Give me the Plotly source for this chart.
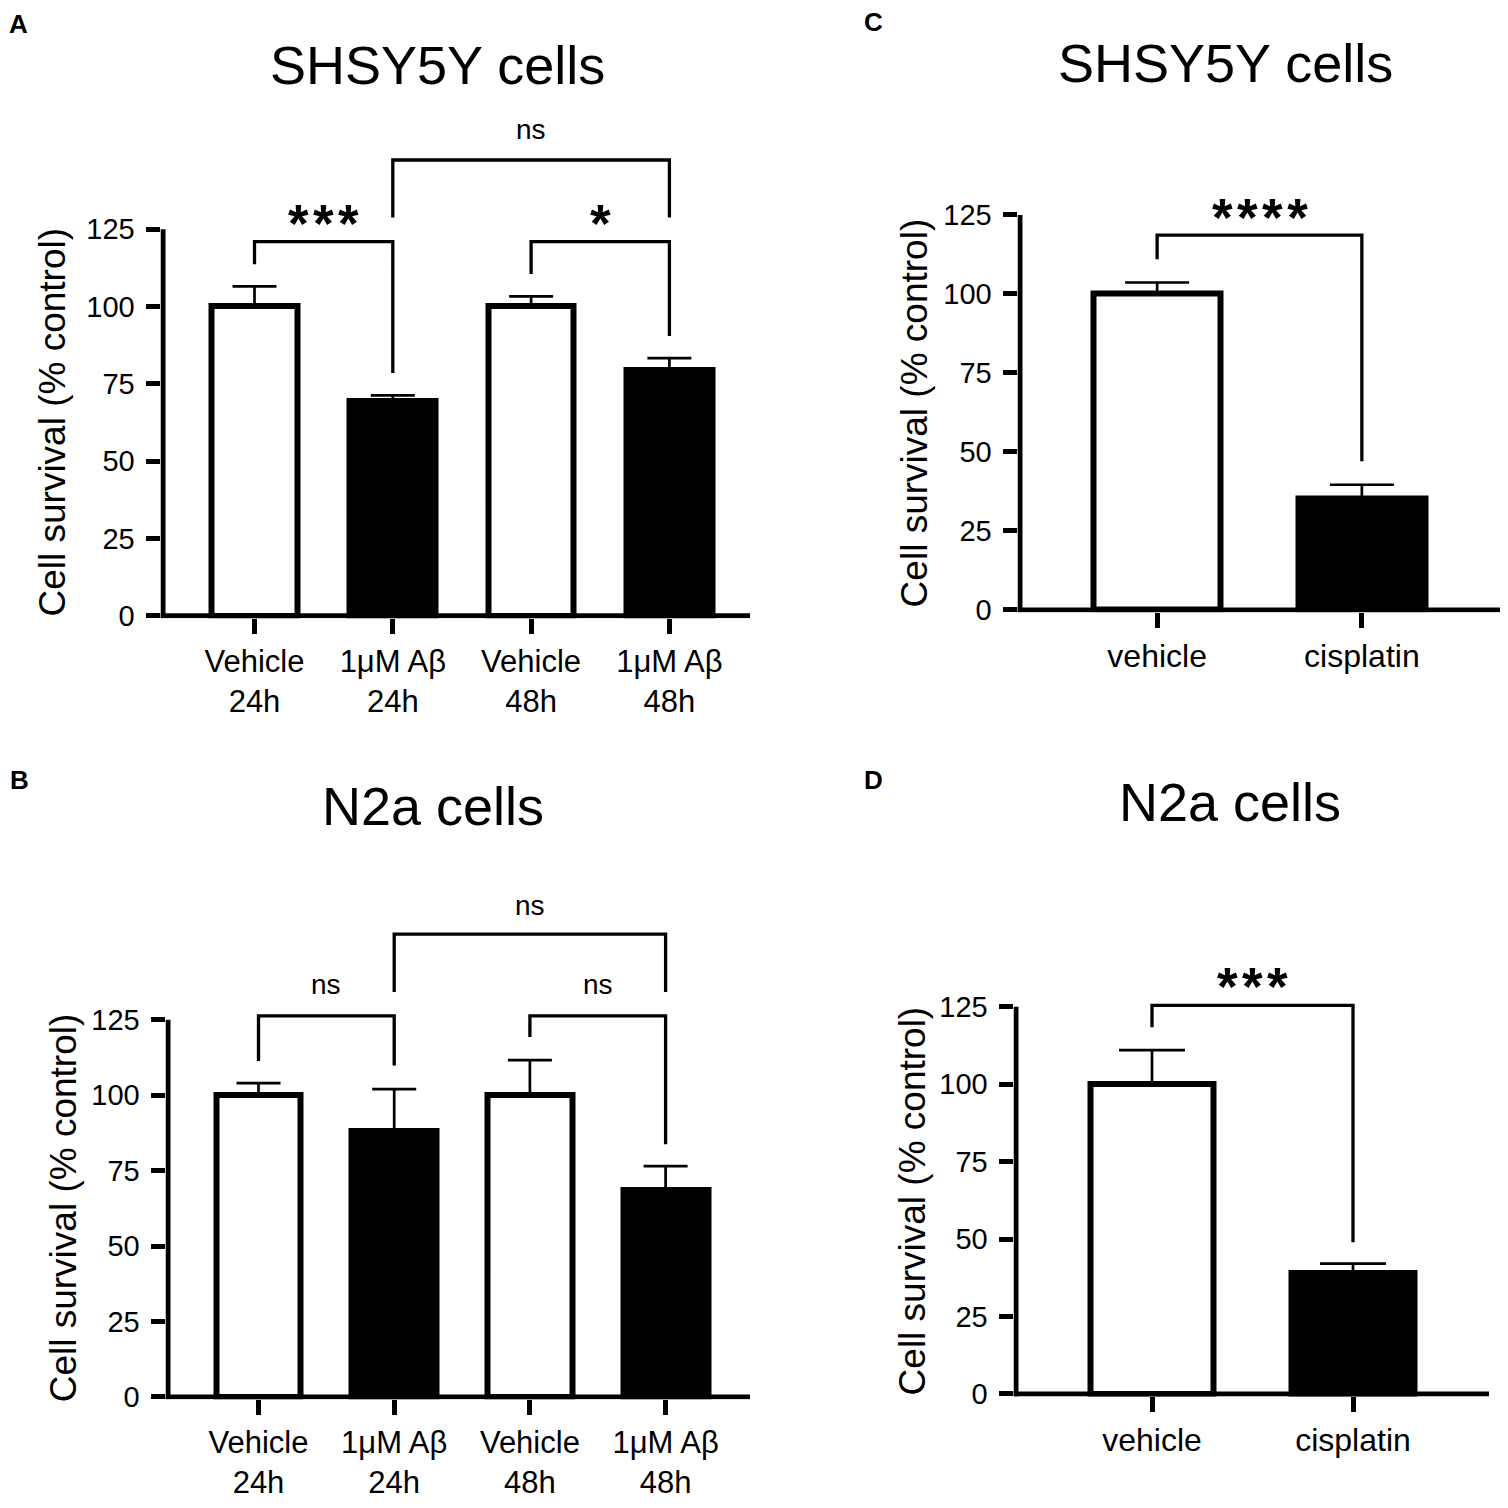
import plotly.graph_objects as go

# ---- data ----
four_labels = ["Vehicle<br>24h", "1μM Aβ<br>24h", "Vehicle<br>48h", "1μM Aβ<br>48h"]
two_labels = ["vehicle", "cisplatin"]
four_colors = ["white", "black", "white", "black"]
two_colors = ["white", "black"]
y_ticks = [0, 25, 50, 75, 100, 125]

# A: SHSY5Y, Abeta
a_means = [100, 69.5, 100, 79.5]
a_err = [6.5, 1.8, 3.3, 3.8]
# bracket: x from, x to, top, left foot, right foot
a_brackets = [(0, 1, 121, 113.7, 78.5), (2, 3, 121, 110.5, 90.5), (1, 3, 147.4, 128.8, 128.8)]
a_marks = ["***", "*", "ns"]
a_mark_y = [130.7, 130.7, 156.6]

# B: N2a, Abeta
b_means = [100, 88, 100, 68.7]
b_err = [4, 14, 11.6, 7.8]
b_brackets = [(0, 1, 126.3, 111.3, 109.8), (2, 3, 126.3, 119.3, 83.7), (1, 3, 153.4, 134.2, 134.2)]
b_marks = ["ns", "ns", "ns"]
b_mark_y = [136, 136, 162.3]

# C: SHSY5Y, cisplatin
c_means = [100, 35.3]
c_err = [3.6, 4.3]
c_brackets = [(0, 1, 118.6, 111, 47)]
c_marks = ["****"]
c_mark_y = [128]

# D: N2a, cisplatin
d_means = [100, 39.2]
d_err = [11, 2.9]
d_brackets = [(0, 1, 125.5, 118.4, 49)]
d_marks = ["***"]
d_mark_y = [135.5]

# the page body adds an 8px margin round the figure, so the figure is
# 1508 - 16 wide and all pixel positions below are page positions
OFF = 8
W = H = 1508 - 2 * OFF
FONT = "Liberation Sans"
AX_W = 5  # axis line width

# pixel layout of every panel (page pixels)
panels = [
    dict(key="A", title="SHSY5Y cells", labels=four_labels, means=a_means, err=a_err, colors=four_colors,
         brackets=a_brackets, marks=a_marks, mark_y=a_mark_y,
         axis_px=163, x0_px=254.5, step_px=138.3, right_px=750, y0_px=622, ppu=3.124, ymax=170,
         title_xy=(437, 66), letter_xy=(18, 24), ylab_px=53, tick_font=31, cap=22, bw=0.62),
    dict(key="B", title="N2a cells", labels=four_labels, means=b_means, err=b_err, colors=four_colors,
         brackets=b_brackets, marks=b_marks, mark_y=b_mark_y,
         axis_px=168, x0_px=258.5, step_px=135.7, right_px=750, y0_px=1411, ppu=3.048, ymax=170,
         title_xy=(433, 814), letter_xy=(19, 788), ylab_px=63, tick_font=31, cap=22, bw=0.625),
    dict(key="C", title="SHSY5Y cells", labels=two_labels, means=c_means, err=c_err, colors=two_colors,
         brackets=c_brackets, marks=c_marks, mark_y=c_mark_y,
         axis_px=1020, x0_px=1158, step_px=206, right_px=1503, y0_px=616, ppu=3.192, ymax=140,
         title_xy=(1225, 64), letter_xy=(873, 22), ylab_px=914, tick_font=32, cap=32, bw=0.62),
    dict(key="D", title="N2a cells", labels=two_labels, means=d_means, err=d_err, colors=two_colors,
         brackets=d_brackets, marks=d_marks, mark_y=d_mark_y,
         axis_px=1016, x0_px=1152, step_px=201, right_px=1489, y0_px=1408, ppu=3.128, ymax=145,
         title_xy=(1230, 810), letter_xy=(873, 788), ylab_px=912, tick_font=32, cap=33, bw=0.61),
]


def px_x(p):
    return (p - OFF) / W


def px_y(p):
    return 1 - (p - OFF) / H


fig = go.Figure()
layout = {}
annotations = []
shapes = []

for i, p in enumerate(panels):
    n = i + 1
    xa = "x" if n == 1 else f"x{n}"
    ya = "y" if n == 1 else f"y{n}"
    left_edge = p["axis_px"] - AX_W / 2
    step = p["step_px"]
    x_rng = [(left_edge - p["x0_px"]) / step, (p["right_px"] - p["x0_px"]) / step]
    # leave half a line width under zero so the x axis line is not clipped
    d = (AX_W / 2) / p["ppu"]
    bottom_px = p["y0_px"] + AX_W / 2
    top_px = p["y0_px"] - p["ymax"] * p["ppu"]
    cats = list(range(len(p["means"])))

    fig.add_trace(go.Bar(
        x=cats, y=p["means"], width=p["bw"], xaxis=xa, yaxis=ya,
        marker=dict(color=p["colors"], line=dict(color="black", width=6)),
        error_y=dict(type="data", array=p["err"], arrayminus=[0] * len(cats), symmetric=False,
                     color="black", thickness=2.7, width=p["cap"]),
        showlegend=False, hoverinfo="skip",
    ))

    for (xl, xr, top, yl, yr), mark, my in zip(p["brackets"], p["marks"], p["mark_y"]):
        fig.add_trace(go.Scatter(
            x=[xl, xl, xr, xr], y=[yl, top, top, yr], mode="lines", xaxis=xa, yaxis=ya,
            line=dict(color="black", width=3.3), showlegend=False, hoverinfo="skip",
        ))
        if "*" in mark:
            txt, size, shift = "<b>" + "\u200a".join(mark) + "</b>", 53, -12
        else:
            txt, size, shift = mark, 28, 2
        annotations.append(dict(
            x=(xl + xr) / 2, y=my, xref=xa, yref=ya, text=txt, showarrow=False,
            xanchor="center", yanchor="middle", yshift=shift,
            font=dict(family=FONT, size=size, color="black"),
        ))

    layout["xaxis" if n == 1 else f"xaxis{n}"] = dict(
        domain=[px_x(left_edge), min(px_x(p["right_px"]), 1)], range=x_rng, anchor=ya,
        tickvals=cats, ticktext=p["labels"], showline=False,
        ticks="outside", ticklen=15, tickwidth=4.5, tickcolor="black", ticklabelstandoff=0,
        showgrid=False, zeroline=False, tickfont=dict(family=FONT, size=p["tick_font"], color="black"),
    )
    layout["yaxis" if n == 1 else f"yaxis{n}"] = dict(
        domain=[px_y(bottom_px), px_y(top_px)], range=[-d, p["ymax"]], anchor=xa,
        tickvals=y_ticks, showline=False, ticks="outside", ticklen=14, tickwidth=4.5, tickcolor="black",
        ticklabelstandoff=5,
        showgrid=False, zeroline=False, tickfont=dict(family=FONT, size=29, color="black"),
    )

    # axis lines: y only from 0 to 125, x along zero
    axis_val = (p["axis_px"] - p["x0_px"]) / step
    shapes.append(dict(type="line", xref=xa, yref=ya, x0=axis_val, x1=axis_val, y0=-d, y1=125,
                       line=dict(color="black", width=AX_W), layer="above"))
    shapes.append(dict(type="line", xref=xa, yref=ya, x0=x_rng[0], x1=x_rng[1], y0=0, y1=0,
                       line=dict(color="black", width=AX_W), layer="above"))

    annotations.append(dict(
        x=px_x(p["ylab_px"]), y=62.5, xref="paper", yref=ya, text="Cell survival (% control)",
        textangle=-90, showarrow=False, xanchor="center", yanchor="middle",
        font=dict(family=FONT, size=37, color="black"),
    ))
    annotations.append(dict(
        x=px_x(p["title_xy"][0]), y=px_y(p["title_xy"][1]), xref="paper", yref="paper",
        text=p["title"], showarrow=False, xanchor="center", yanchor="middle",
        font=dict(family=FONT, size=54, color="black"),
    ))
    annotations.append(dict(
        x=px_x(p["letter_xy"][0]), y=px_y(p["letter_xy"][1]), xref="paper", yref="paper",
        text="<b>" + p["key"] + "</b>", showarrow=False, xanchor="center", yanchor="middle",
        font=dict(family=FONT, size=26, color="black"),
    ))

fig.update_layout(
    width=W, height=H, margin=dict(l=0, r=0, t=0, b=0),
    paper_bgcolor="white", plot_bgcolor="white",
    annotations=annotations, shapes=shapes, bargap=0,
    **layout,
)

fig.write_html("out.html")
